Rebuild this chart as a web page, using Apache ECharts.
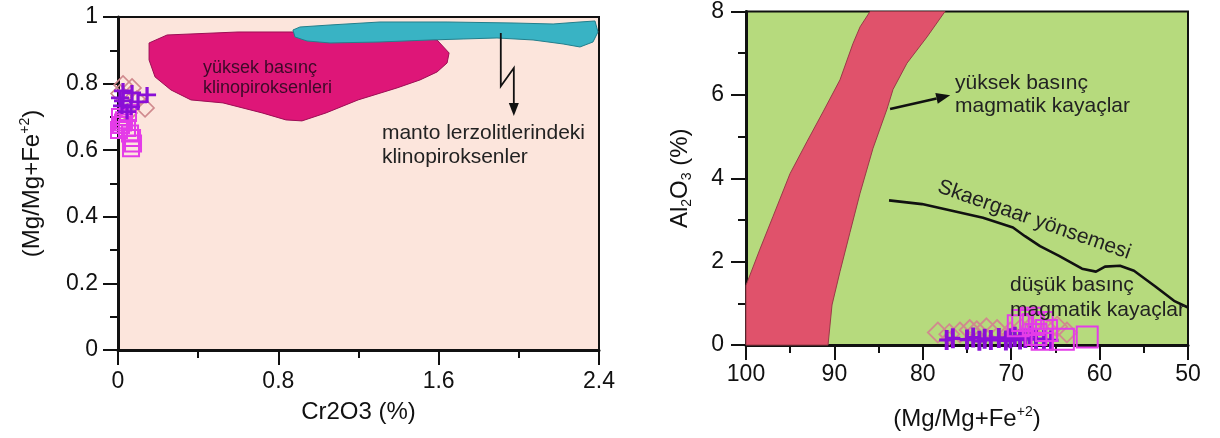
<!DOCTYPE html>
<html>
<head>
<meta charset="utf-8">
<script src="https://cdn.jsdelivr.net/npm/echarts@6/dist/echarts.min.js"></script>
<style>
  html, body { margin: 0; padding: 0; background: #fff; }
  #chart { width: 1220px; height: 438px; }
</style>
</head>
<body>
<div id="chart"></div>
<script>
// ---- Left diagram: Cr2O3 (%) vs Mg/(Mg+Fe2+) ----
const leftCross = [[0.025,0.778],[0.07,0.772],[0.145,0.766],[0.01,0.757],[0.025,0.748],[0.02,0.733],[0.065,0.730],[0.045,0.716],[0.10,0.745]];
const leftDiamond = [[0.025,0.796],[0.07,0.787],[0.01,0.770],[0.095,0.751],[0.135,0.727],[0.05,0.712]];
const leftSquare = [[0.05,0.712],[0.01,0.700],[0.03,0.690],[0.025,0.683],[0.015,0.676],[0.045,0.667],[0.005,0.661],[0.06,0.650],[0.07,0.637],[0.075,0.620],[0.065,0.606]];

// field of high-pressure clinopyroxenes
const highPressureCpx = [[0.155,0.922],[0.245,0.946],[0.599,0.955],[0.878,0.955],[1.21,0.949],[1.457,0.943],[1.592,0.931],[1.652,0.892],[1.642,0.862],[1.592,0.835],[1.507,0.811],[1.392,0.787],[1.198,0.751],[1.038,0.712],[0.918,0.688],[0.838,0.691],[0.719,0.712],[0.524,0.742],[0.364,0.751],[0.264,0.781],[0.185,0.820],[0.155,0.871]];
// field of clinopyroxenes in mantle lherzolites
const mantleLherzoliteCpx = [[0.873,0.961],[0.908,0.970],[1.058,0.976],[1.307,0.985],[1.642,0.985],[1.971,0.982],[2.171,0.979],[2.305,0.985],[2.380,0.988],[2.395,0.955],[2.370,0.925],[2.305,0.910],[2.221,0.919],[2.071,0.931],[1.891,0.937],[1.722,0.934],[1.557,0.931],[1.307,0.925],[1.058,0.922],[0.943,0.928],[0.883,0.940]];
const mantleArrow = [[1.91,0.952],[1.91,0.792],[1.975,0.847],[1.975,0.703]];

const leftXTicks = { min: 0, max: 2.4, interval: 0.8 };
const leftYTicks = { min: 0, max: 1, interval: 0.2 };

// ---- Right diagram: Mg/(Mg+Fe2+) vs Al2O3 (%) ----
const rightCross = [[77.3,0.12],[76.6,0.16],[75.0,0.13],[74.3,0.18],[73.6,0.10],[73.0,0.15],[72.3,0.12],[71.4,0.17],[70.6,0.11],[70.1,0.16],[69.6,0.20],[69.0,0.13],[68.4,0.17],[67.9,0.22],[67.2,0.14],[66.3,0.12],[65.5,0.11]];
const rightDiamond = [[78.3,0.30],[77.0,0.26],[75.8,0.30],[74.7,0.36],[73.9,0.33],[72.8,0.40],[71.6,0.36],[70.1,0.30],[68.9,0.38],[67.8,0.42],[65.8,0.35],[64.8,0.44],[63.7,0.30]];
const rightSquare = [[69.2,0.46],[68.7,0.59],[67.5,0.49],[67.8,0.64],[66.5,0.54],[66.0,0.35],[67.2,0.25],[66.5,0.14],[64.1,0.14],[61.4,0.19]];

// band of high-pressure magmatic rocks
const highPressureBand = [[100,0],[100,1.43],[98.42,2.30],[96.95,3.08],[95.02,4.11],[93.10,4.88],[91.29,5.59],[89.37,6.36],[87.90,7.23],[87.10,7.63],[85.97,8.0],[77.49,8.0],[79.52,7.39],[81.79,6.76],[83.37,6.13],[84.05,5.66],[85.63,4.72],[87.10,3.64],[88.24,2.70],[89.37,1.76],[90.27,0.96],[90.72,0]];
// Skaergaard differentiation trend
const skaergaardTrend = [[83.82,3.47],[80.09,3.38],[76.70,3.22],[73.19,3.05],[69.80,2.82],[68.44,2.61],[66.74,2.37],[64.59,2.14],[61.99,1.83],[60.41,1.76],[59.39,1.88],[57.69,1.90],[56.11,1.78],[53.73,1.41],[51.58,1.06],[50.0,0.90]];
const highPressureArrow = [[83.7,5.66],[76.9,5.99]];

const rightXTicks = { min: 50, max: 100, interval: 10 };
const rightYTicks = { min: 0, max: 8, interval: 2 };

const FONT = '"Liberation Sans", Arial, sans-serif';
const INK = '#111';

function polygonSeries(idx, pts, fill, stroke) {
  return {
    type: 'custom', xAxisIndex: idx, yAxisIndex: idx, data: pts, silent: true, z: 1,
    renderItem(params, api) {
      if (params.dataIndex !== 0) return null;
      return { type: 'polygon', shape: { points: pts.map(p => api.coord(p)) },
               style: { fill: fill, stroke: stroke, lineWidth: 1 } };
    }
  };
}

function arrowSeries(idx, pts, width, headLen, headWidth) {
  return {
    type: 'custom', xAxisIndex: idx, yAxisIndex: idx, data: pts, silent: true, z: 3,
    renderItem(params, api) {
      if (params.dataIndex !== 0) return null;
      const px = pts.map(p => api.coord(p));
      const a = px[px.length - 2], b = px[px.length - 1];
      const ang = Math.atan2(b[1] - a[1], b[0] - a[0]);
      const c = Math.cos(ang), s = Math.sin(ang);
      const base = [b[0] - headLen * c, b[1] - headLen * s];
      const l = [base[0] - headWidth / 2 * s, base[1] + headWidth / 2 * c];
      const r = [base[0] + headWidth / 2 * s, base[1] - headWidth / 2 * c];
      return { type: 'group', children: [
        { type: 'polyline', shape: { points: px.slice(0, -1).concat([base]) },
          style: { stroke: INK, lineWidth: width, fill: null } },
        { type: 'polygon', shape: { points: [b, l, r] }, style: { fill: INK } }
      ] };
    }
  };
}

function noteSeries(idx, at, text, o) {
  return {
    type: 'custom', xAxisIndex: idx, yAxisIndex: idx, data: [at], silent: true, z: 6,
    renderItem(params, api) {
      const p = api.coord(at);
      return { type: 'text', x: p[0], y: p[1], rotation: o.rotation || 0,
        style: { text: text, fontFamily: FONT, fontSize: o.size, lineHeight: o.lineHeight,
                 fill: o.color || INK, align: o.align || 'left', verticalAlign: o.vAlign || 'top' } };
    }
  };
}

// plus-sign markers: thin arms for the left diagram, heavier upright bar for the right one
const plusThin = 'path://M0,4.1 L10,4.1 L10,5.9 L0,5.9 Z M4.1,0 L5.9,0 L5.9,10 L4.1,10 Z';
const plusBold = 'path://M0,4.2 L10,4.2 L10,5.8 L0,5.8 Z M3.7,0 L6.3,0 L6.3,10 L3.7,10 Z';
function scatter(idx, data, kind, size, bw) {
  const s = { type: 'scatter', xAxisIndex: idx, yAxisIndex: idx, data: data, silent: true, z: 4 };
  if (kind === 'cross') {
    s.symbol = idx === 0 ? plusThin : plusBold; s.symbolSize = size;
    s.itemStyle = { color: '#8a0fd6', opacity: 1 };
  } else if (kind === 'diamond') {
    s.symbol = 'diamond'; s.symbolSize = size;
    s.itemStyle = { color: 'rgba(0,0,0,0)', borderColor: '#d08a8e', borderWidth: bw, opacity: 1 };
  } else {
    s.symbol = 'rect'; s.symbolSize = size;
    s.itemStyle = { color: 'rgba(0,0,0,0)', borderColor: '#e43ce8', borderWidth: bw, opacity: 1 };
  }
  return s;
}

function valueAxis(gridIndex, t, extra) {
  return Object.assign({
    type: 'value', gridIndex: gridIndex, min: t.min, max: t.max, interval: t.interval,
    axisLine: { show: true, onZero: false, lineStyle: { color: INK, width: 3 } },
    axisTick: { show: true, length: 15, lineStyle: { color: INK, width: 2 } },
    minorTick: { show: true, splitNumber: 2, length: 8, lineStyle: { color: INK, width: 2 } },
    splitLine: { show: false },
    minorSplitLine: { show: false },
    axisLabel: { color: INK, fontFamily: FONT, fontSize: 23, margin: 20, showMinLabel: true, showMaxLabel: true },
    nameLocation: 'middle',
    nameTextStyle: { color: INK, fontFamily: FONT, fontSize: 24, lineHeight: 28,
      rich: { sup: { fontSize: 14, fontFamily: FONT, color: INK, verticalAlign: 'top' },
              sub: { fontSize: 14, fontFamily: FONT, color: INK, verticalAlign: 'bottom' } } }
  }, extra);
}

const option = {
  animation: false,
  backgroundColor: '#ffffff',
  grid: [
    { left: 118, top: 17, width: 481, height: 333, show: true, backgroundColor: '#fce5dc', borderColor: INK, borderWidth: 2 },
    { left: 746, top: 7, width: 442, height: 341, show: true, backgroundColor: '#b6da7d', borderColor: INK, borderWidth: 2 }
  ],
  xAxis: [
    valueAxis(0, leftXTicks, { name: 'Cr2O3 (%)', nameGap: 48 }),
    valueAxis(1, rightXTicks, { inverse: true, name: '(Mg/Mg+Fe{sup|+2})', nameGap: 60,
      axisLabel: { color: INK, fontFamily: FONT, fontSize: 23, margin: 18, showMinLabel: true, showMaxLabel: true } })
  ],
  yAxis: [
    valueAxis(0, leftYTicks, { name: '(Mg/Mg+Fe{sup|+2})', nameGap: 72, nameRotate: 90 }),
    valueAxis(1, rightYTicks, { name: 'Al{sub|2}O{sub|3} (%)', nameGap: 52, nameRotate: 90,
      axisLabel: { color: INK, fontFamily: FONT, fontSize: 23, margin: 22, showMinLabel: true, showMaxLabel: true } })
  ],
  series: [
    // left diagram
    polygonSeries(0, highPressureCpx, '#de1678', '#9c0f55'),
    polygonSeries(0, mantleLherzoliteCpx, '#39b3c4', '#237f8c'),
    arrowSeries(0, mantleArrow, 1.8, 13, 10),
    noteSeries(0, [0.424, 0.877], 'yüksek basınç\nklinopiroksenleri', { size: 18, lineHeight: 20, color: '#3c0a28' }),
    noteSeries(0, [1.317, 0.688], 'manto lerzolitlerindeki\nklinopiroksenler', { size: 21, lineHeight: 24, color: '#222' }),
    scatter(0, leftDiamond, 'diamond', 18, 1.6),
    scatter(0, leftSquare, 'square', 16, 2),
    scatter(0, leftCross, 'cross', [18, 16]),

    // right diagram
    polygonSeries(1, highPressureBand, '#e0526b', '#9a3a48'),
    { type: 'line', xAxisIndex: 1, yAxisIndex: 1, data: skaergaardTrend, showSymbol: false, silent: true, z: 3,
      lineStyle: { color: INK, width: 2.6 } },
    arrowSeries(1, highPressureArrow, 2.6, 14, 11),
    noteSeries(1, [76.36, 6.56], 'yüksek basınç\nmagmatik kayaçlar', { size: 21, lineHeight: 23, color: '#222' }),
    noteSeries(1, [70.14, 1.725], 'düşük basınç\nmagmatik kayaçlar', { size: 21, lineHeight: 25, color: '#222' }),
    noteSeries(1, [67.4, 3.0], 'Skaergaar yönsemesi', { size: 21, color: '#222', align: 'center', vAlign: 'middle', rotation: -0.337 }),
    scatter(1, rightDiamond, 'diamond', 20, 1.8),
    scatter(1, rightCross, 'cross', [15, 20]),
    scatter(1, rightSquare, 'square', 21, 2)
  ]
};

const chart = echarts.init(document.getElementById('chart'), null, { renderer: 'canvas' });
chart.setOption(option);
</script>
</body>
</html>
